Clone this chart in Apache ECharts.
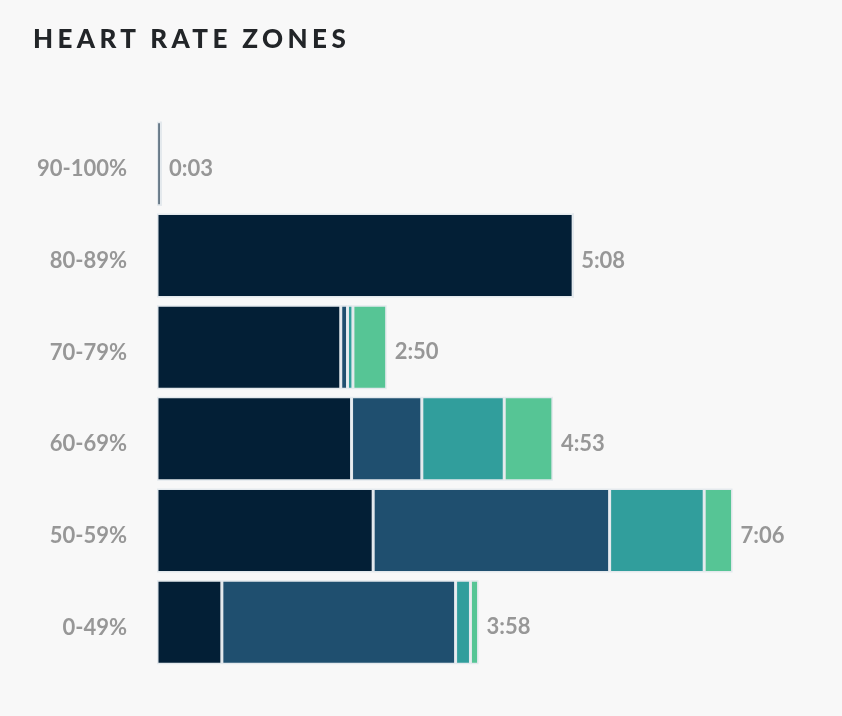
<!DOCTYPE html>
<html>
<head>
<meta charset="utf-8">
<script src="https://cdn.jsdelivr.net/npm/echarts@6/dist/echarts.min.js"></script>
<style>
html,body{margin:0;padding:0;background:#f8f8f8;}
#title{position:absolute;z-index:10;left:33px;top:22px;font-family:Lato,"Open Sans",sans-serif;font-weight:900;font-size:26px;letter-spacing:4.4px;color:#222528;line-height:32px;white-space:nowrap;}
#chart{position:relative;z-index:1;width:842px;height:716px;}
</style>
</head>
<body>
<div id="title">HEART RATE ZONES</div>
<div id="chart"></div>
<script>
// categories bottom to top
const zones = ['0-49%', '50-59%', '60-69%', '70-79%', '80-89%', '90-100%'];
// seconds spent per segment, one array per series
const seg1 = [48, 160, 144, 136, 308, 3];
const seg2 = [173, 175, 52, 5, 0, 0];
const seg3 = [11, 70, 61, 4, 0, 0];
const seg4 = [6, 21, 36, 25, 0, 0];
const totalLabels = ['3:58', '7:06', '4:53', '2:50', '5:08', '0:03'];
const colors = ['#031f36', '#1f4f6f', '#319e9c', '#56c595'];

const chart = echarts.init(document.getElementById('chart'));
const border = {borderColor: '#e4e9ed', borderWidth: 1.5};
function seg(name, data, color) {
  return {
    name: name, type: 'bar', stack: 'z', data: data, barWidth: 84,
    itemStyle: Object.assign({color: color}, border),
    emphasis: {disabled: true}
  };
}
const labelFont = {color: '#979797', fontSize: 22, fontWeight: 'bold', fontFamily: 'Lato, "Open Sans", sans-serif'};
chart.setOption({
  backgroundColor: '#f8f8f8',
  animation: false,
  grid: {left: 157, right: 77, top: 118, bottom: 48},
  xAxis: {type: 'value', min: 0, max: 450, show: false},
  yAxis: {
    type: 'category', data: zones,
    axisLine: {show: false}, axisTick: {show: false},
    axisLabel: {
      margin: 30,
      formatter: v => '{a|' + v + '}',
      rich: {a: Object.assign({padding: [11, 0, 0, 0]}, labelFont)}
    }
  },
  series: [
    seg('s1', seg1, colors[0]),
    seg('s2', seg2, colors[1]),
    seg('s3', seg3, colors[2]),
    seg('s4', seg4, colors[3]),
    {
      name: 'total', type: 'bar', stack: 'z', barWidth: 84,
      data: zones.map(() => 0),
      itemStyle: {color: 'rgba(0,0,0,0)', borderWidth: 0},
      label: Object.assign({
        show: true, position: 'right', distance: 8, offset: [0, 5],
        formatter: p => totalLabels[p.dataIndex]
      }, labelFont),
      emphasis: {disabled: true}
    }
  ]
});
</script>
</body>
</html>
